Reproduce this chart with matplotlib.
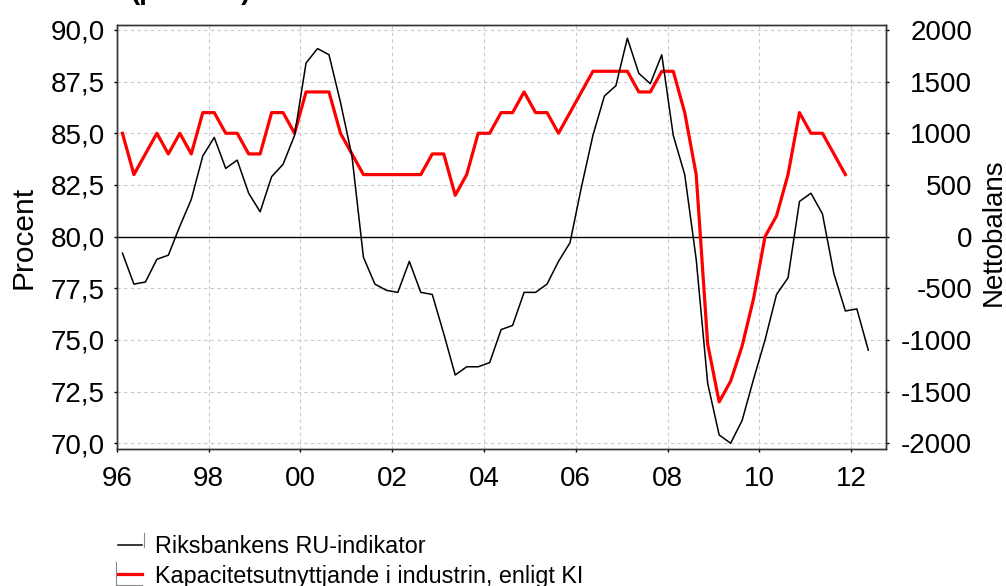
import numpy as np
import matplotlib
matplotlib.use('Agg')
import matplotlib.pyplot as plt
from matplotlib.lines import Line2D

plt.rcParams['font.family'] = ['Liberation Sans', 'DejaVu Sans']

# ---------------- data ----------------
start_year = 1996  # first quarter 1996Q1
kapacitet = [85, 83, 84, 85, 84, 85, 84, 86, 86, 85,
             85, 84, 84, 86, 86, 85, 87, 87, 87, 85,
             84, 83, 83, 83, 83, 83, 83, 84, 84, 82,
             83, 85, 85, 86, 86, 87, 86, 86, 85, 86,
             87, 88, 88, 88, 88, 87, 87, 88, 88, 86,
             83, 74.8, 72.0, 73.0, 74.7, 77.0, 80.0, 81.0, 83.0, 86.0,
             85, 85, 84, 83]
ru_indikator = [-160, -460, -440, -220, -180, 100, 360, 780, 960, 660,
                740, 420, 240, 580, 700, 980, 1680, 1820, 1760, 1300,
                780, -200, -460, -520, -540, -240, -540, -560, -940, -1340,
                -1260, -1260, -1220, -900, -860, -540, -540, -460, -240, -60,
                480, 980, 1360, 1460, 1920, 1580, 1480, 1760, 980, 600,
                -220, -1420, -1920, -2000, -1780, -1380, -1000, -560, -400, 340,
                420, 220, -360, -720, -700, -1100]
x_tick_years = [1996, 1998, 2000, 2002, 2004, 2006, 2008, 2010, 2012]
x_tick_labels = ['96', '98', '00', '02', '04', '06', '08', '10', '12']
left_ticks = [70.0, 72.5, 75.0, 77.5, 80.0, 82.5, 85.0, 87.5, 90.0]
left_tick_labels = ['70,0', '72,5', '75,0', '77,5', '80,0', '82,5', '85,0', '87,5', '90,0']
right_ticks = [-2000, -1500, -1000, -500, 0, 500, 1000, 1500, 2000]
right_tick_labels = ['-2000', '-1500', '-1000', '-500', '0', '500', '1000', '1500', '2000']
legend_labels = ['Riksbankens RU-indikator', 'Kapacitetsutnyttjande i industrin, enligt KI']

x_red = start_year + 0.125 + 0.25 * np.arange(len(kapacitet))
x_blk = start_year + 0.125 + 0.25 * np.arange(len(ru_indikator))

W, H = 1006, 586
fig = plt.figure(figsize=(W / 100, H / 100), dpi=100)
ax = fig.add_axes([116.7 / W, 1 - 449 / H, (886 - 116.7) / W, (449 - 25) / H])
ax2 = ax.twinx()

ax.set_xlim(1996.0, 2012.76)
ax.set_ylim(69.72, 90.24)
ax2.set_ylim((69.72 - 80) * 200, (90.24 - 80) * 200)

ax.grid(True, linestyle=(0, (3, 3)), color='#c8c8c8', linewidth=0.8)
ax.set_axisbelow(True)
ax.axhline(80, color='black', linewidth=1.0, zorder=1)

ax.plot(x_red, kapacitet, color='#ff0000', linewidth=2.3, zorder=3)
ax2.plot(x_blk, ru_indikator, color='black', linewidth=1.1, zorder=2)

ax.set_xticks(x_tick_years)
ax.set_xticklabels(x_tick_labels)
ax.set_yticks(left_ticks)
ax.set_yticklabels(left_tick_labels)
ax2.set_yticks(right_ticks)
ax2.set_yticklabels(right_tick_labels)
for lab in ax2.get_yticklabels():
    lab.set_horizontalalignment('right')

ax.tick_params(axis='x', direction='out', length=2.5, width=1, labelsize=20, pad=10)
ax.tick_params(axis='y', direction='out', length=2.5, width=1, labelsize=20, pad=5.9)
ax2.tick_params(axis='y', direction='out', length=2.5, width=1, labelsize=20, pad=59.5)

for a in (ax, ax2):
    for s in a.spines.values():
        s.set_color('#333333')
        s.set_linewidth(1.0)

fig.text(24 / W, 1 - 237 / H, 'Procent', rotation=90, ha='center', va='center', fontsize=21.5)
fig.text(994 / W, 1 - 232 / H, 'Nettobalans', rotation=90, ha='center', va='center', fontsize=20)

# partially visible title at top edge (only its lowest part shows)
fig.text(131 / W, 1 + 1.0 / H, '(procent)', ha='left', va='baseline', fontsize=20, fontweight='bold')

# legend (manual)
def fl(x0, x1, y0, y1, **kw):
    fig.add_artist(Line2D([x0 / W, x1 / W], [1 - y0 / H, 1 - y1 / H], transform=fig.transFigure, **kw))

fl(118, 142, 545, 545, color='black', linewidth=1.1)
fl(144, 144, 533, 547, color='#888888', linewidth=0.8)
fl(118, 142, 574, 574, color='#ff0000', linewidth=2.3)
fl(116, 116, 562, 585, color='#888888', linewidth=0.8)
fl(116, 142, 585, 585, color='#888888', linewidth=0.8)
fig.text(155 / W, 1 - 553 / H, legend_labels[0], ha='left', va='baseline', fontsize=16.8)
fig.text(155 / W, 1 - 582.5 / H, legend_labels[1], ha='left', va='baseline', fontsize=16.8)

fig.savefig('out.png', dpi=100)
